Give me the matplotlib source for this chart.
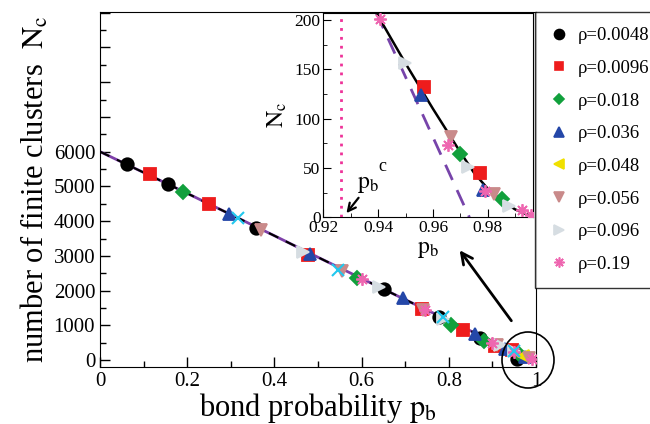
import numpy as np
import matplotlib
matplotlib.use("Agg")
import matplotlib.pyplot as plt
from matplotlib.patches import Ellipse, FancyArrowPatch
from matplotlib.ticker import MultipleLocator, FuncFormatter
from matplotlib.lines import Line2D

plt.rcParams['font.family'] = ['Liberation Serif', 'DejaVu Serif']
plt.rcParams['mathtext.fontset'] = 'stix'

# ---- main panel data ----
curve_p = [0.0, 0.1, 0.2, 0.3, 0.4, 0.5, 0.6, 0.7, 0.8, 0.9, 0.95, 1.0]
curve_n = [6000, 5400, 4800, 4190, 3580, 2960, 2350, 1740, 1140, 540, 240, 0]

labels = ['ρ=0.0048', 'ρ=0.0096', 'ρ=0.018', 'ρ=0.036',
          'ρ=0.048', 'ρ=0.056', 'ρ=0.096', 'ρ=0.19']

main_x = [
    [0.063, 0.157, 0.358, 0.652, 0.778, 0.872, 0.957],
    [0.115, 0.25, 0.478, 0.738, 0.833, 0.905, 0.944],
    [0.191, 0.589, 0.804, 0.88, 0.96],
    [0.296, 0.482, 0.694, 0.86, 0.93, 0.975],
    [0.97],
    [0.37, 0.555, 0.74, 0.91, 0.985],
    [0.466, 0.64, 0.787, 0.917, 0.95],
    [0.6, 0.745, 0.9, 0.95, 0.99],
]
main_y = [
    [5650, 5070, 3810, 2050, 1250, 630, 20],
    [5350, 4500, 3020, 1460, 870, 420, 300],
    [4850, 2355, 1010, 560, 180],
    [4210, 3040, 1780, 750, 330, 100],
    [120],
    [3740, 2560, 1440, 440, 60],
    [3120, 2100, 1180, 430, 260],
    [2330, 1430, 480, 230, 40],
]
extra_x = [0.316, 0.547, 0.787, 0.95]
extra_y = [4080, 2590, 1230, 250]

# ---- inset data ----
in_curve_p = [0.9394, 0.945, 0.95, 0.955, 0.96, 0.965, 0.97, 0.975, 0.98, 0.985, 0.99, 0.995, 0.9965]
in_curve_n = [207, 180, 156, 133, 110, 88, 66, 45, 29, 17, 8, 2, 0]
fit_p = [0.9394, 0.9733]
fit_n = [207, 0]
pbc = 0.9263

in_x = [
    [],
    [0.9566, 0.9772],
    [0.9697, 0.9852],
    [0.9558, 0.9784],
    [],
    [0.9667, 0.9824],
    [0.9497, 0.9727, 0.9879],
    [0.9406, 0.9655, 0.979, 0.9925, 0.9958],
]
in_y = [
    [],
    [132, 45],
    [64, 19],
    [124, 28],
    [],
    [81, 24],
    [156, 51, 11],
    [201, 73, 27, 7, 2],
]

star = (8, 2, 0)
markers = ['o', 's', 'D', '^', '<', 'v', '>', star]
colors = ['black', '#ee1c1c', '#11a03c', '#2447a8', '#f0e000', '#c98a8a', '#d6dde2', '#ee66b0']
sizes = [9, 8, 7, 9, 9, 9, 9, 9]

W, H = 650, 424
fig = plt.figure(figsize=(6.5, 4.24), dpi=100)
ax = fig.add_axes([100 / W, 1 - 366.7 / H, 436 / W, 354.7 / H])

ax.plot(curve_p, curve_n, color='#7d3fa8', lw=2, zorder=2)
ax.plot(curve_p, curve_n, color='black', lw=1.5, ls=(0, (5, 4)), zorder=2)
for xs, ys, m, c, s in zip(main_x, main_y, markers, colors, sizes):
    ax.plot(xs, ys, ls='none', marker=m, color=c, ms=s, mew=1.3, zorder=3)
ax.plot(extra_x, extra_y, ls='none', marker='x', color='#22c8ee', ms=8, mew=1.5, zorder=3)

ax.set_xlim(0, 1)
ax.set_ylim(-190, 10020)
ax.xaxis.set_major_locator(MultipleLocator(0.2))
ax.xaxis.set_minor_locator(MultipleLocator(0.1))
ax.yaxis.set_major_locator(MultipleLocator(1000))
ax.yaxis.set_minor_locator(MultipleLocator(500))
ax.xaxis.set_major_formatter(FuncFormatter(lambda v, p: '%g' % round(v, 2)))
ax.yaxis.set_major_formatter(FuncFormatter(lambda v, p: '%d' % v if 0 <= v <= 6000 else ''))
ax.tick_params(which='both', direction='in', top=False, right=False, labelsize=15, width=1)
ax.tick_params(which='major', length=7)
ax.tick_params(which='minor', length=4)
ax.set_xlabel(r'bond probability $\mathrm{p_b}$', fontsize=22, labelpad=0)
ax.set_ylabel(r'number of finite clusters  $\mathrm{N_c}$', fontsize=22, labelpad=2)

# legend box on the right
handles = [Line2D([], [], ls='none', marker=m, color=c, ms=s * 0.8, mew=1.2)
           for m, c, s in zip(markers, colors, sizes)]
leg = fig.legend(handles, labels, loc='upper left', bbox_to_anchor=(535 / W, 1 - 12 / H),
                 fontsize=13.5, frameon=True, fancybox=False, edgecolor='black',
                 labelspacing=0.83, handlelength=1.0, handletextpad=0.5, borderpad=0.8,
                 borderaxespad=0)
leg.get_frame().set_linewidth(1.0)

# inset
axi = fig.add_axes([323.3 / W, 1 - 217.3 / H, 209.7 / W, 204 / H])
axi.axvline(pbc, color='#ee3399', lw=2, ls=(0, (1, 2.2)))
axi.plot(fit_p, fit_n, color='#7744aa', lw=2, ls=(0, (6, 4)))
axi.plot(in_curve_p, in_curve_n, color='black', lw=1.8)
for xs, ys, m, c, s in zip(in_x, in_y, markers, colors, sizes):
    axi.plot(xs, ys, ls='none', marker=m, color=c, ms=s, mew=1.3, zorder=3)
axi.set_xlim(0.92, 0.9965)
axi.set_ylim(0, 206.8)
axi.xaxis.set_major_locator(MultipleLocator(0.02))
axi.xaxis.set_minor_locator(MultipleLocator(0.01))
axi.yaxis.set_major_locator(MultipleLocator(50))
axi.yaxis.set_minor_locator(MultipleLocator(25))
axi.tick_params(which='both', direction='in', top=False, right=False, labelsize=12.5, pad=2)
axi.tick_params(which='major', length=6)
axi.tick_params(which='minor', length=3)
axi.set_xlabel(r'$\mathrm{p_b}$', fontsize=17, labelpad=2)
axi.set_ylabel(r'$\mathrm{N_c}$', fontsize=17, labelpad=4)
axi.text(0.9322, 30, r'$\mathrm{p_b}$', fontsize=17)
axi.text(0.9402, 47, 'c', fontsize=13)
axi.annotate('', xy=(0.9278, 2), xytext=(0.9335, 22),
             arrowprops=dict(arrowstyle='->', lw=1.6, color='black', mutation_scale=14))

# zoom marker: circle and arrow in figure pixels
fig.add_artist(Ellipse((528 / W, 1 - 360 / H), 52 / W, 56 / H, transform=fig.transFigure,
                       fill=False, ec='black', lw=1.2))
fig.add_artist(FancyArrowPatch((513 / W, 1 - 323 / H), (458 / W, 1 - 248 / H),
                               transform=fig.transFigure, arrowstyle='->', lw=2,
                               mutation_scale=20, color='black'))

fig.savefig('out.png', dpi=100)
